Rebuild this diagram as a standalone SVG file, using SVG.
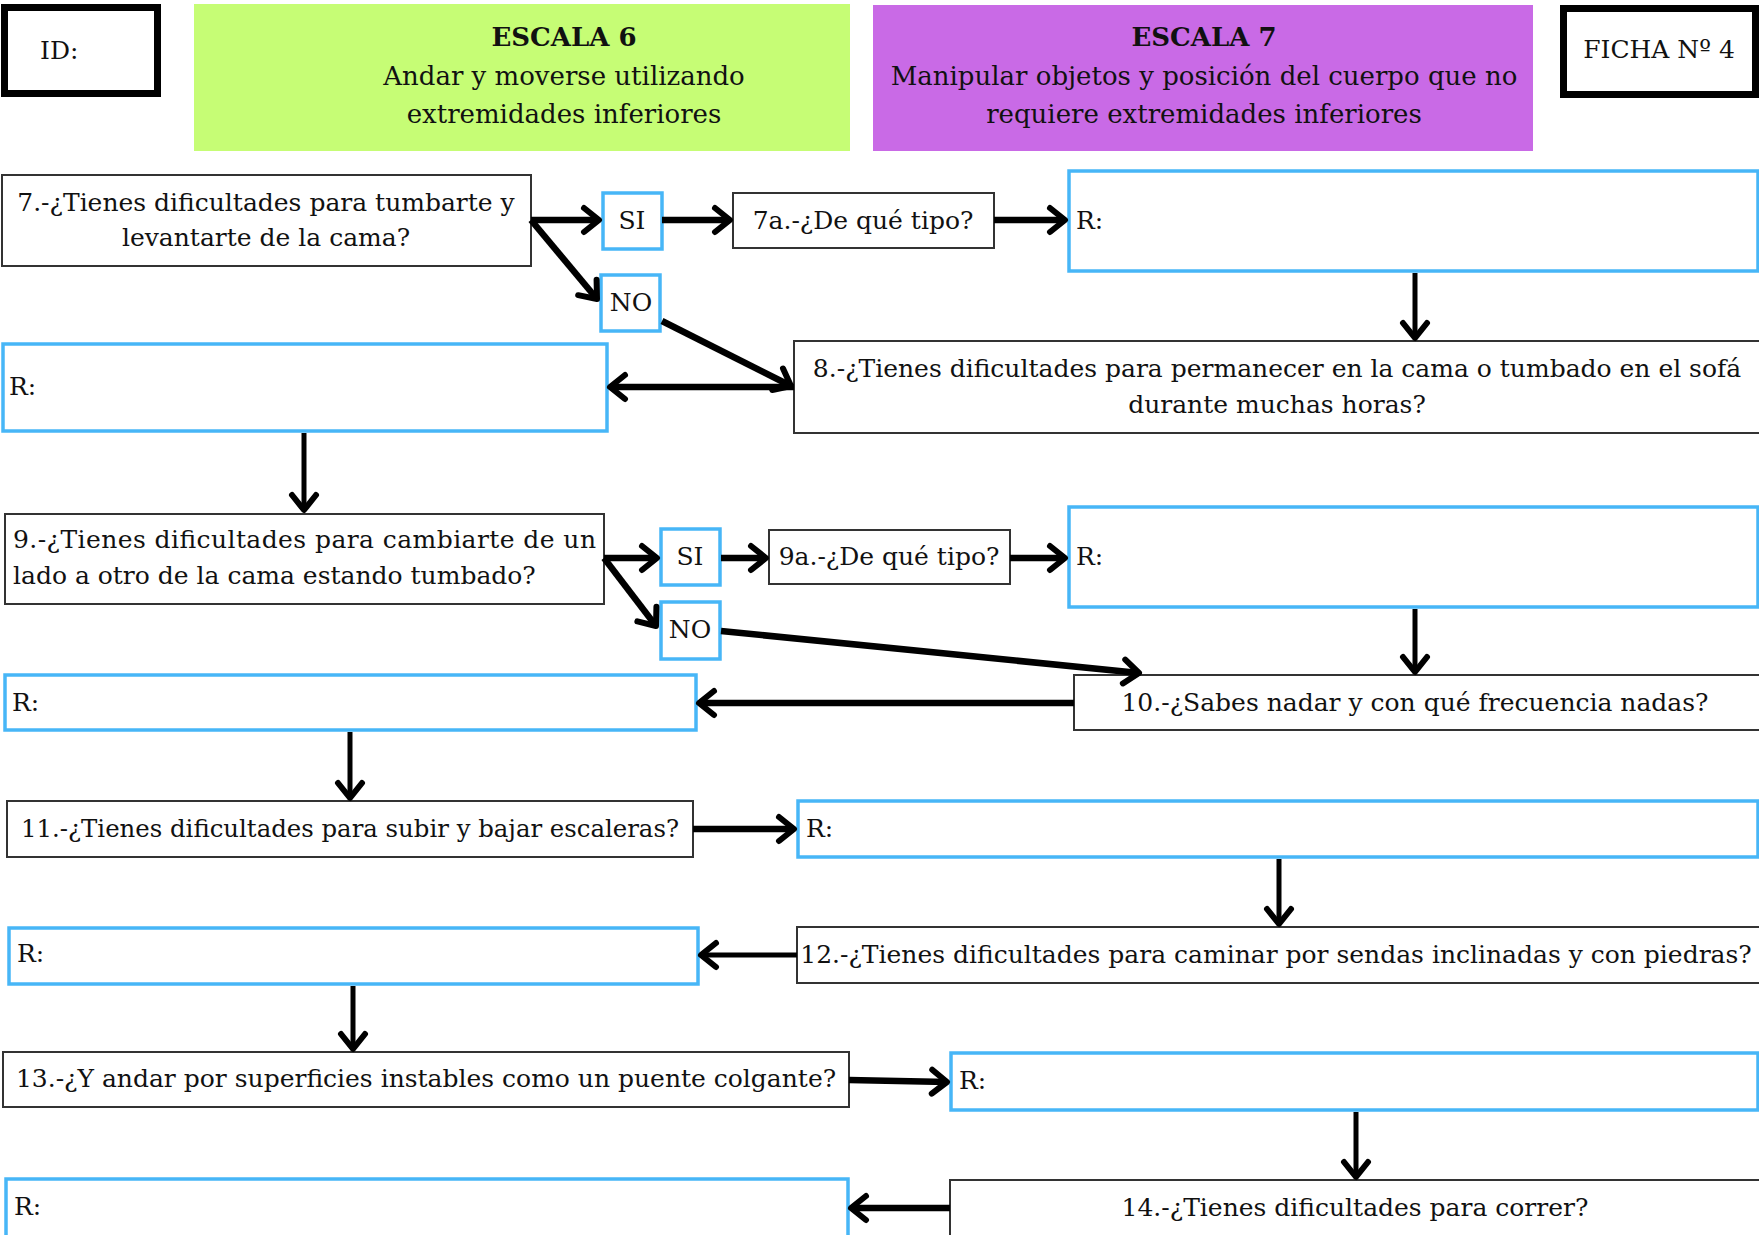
<svg xmlns="http://www.w3.org/2000/svg" width="1759" height="1235" viewBox="0 0 1759 1235">
  <defs>
    <style>
      text { font-family: "DejaVu Serif", "Liberation Serif", serif; font-size: 25px; fill: #111; }
      .h { font-size: 26px; }
      .c { text-anchor: middle; }
      .b { font-weight: bold; }
      .q { fill: #fff; stroke: #333; stroke-width: 2; }
      .r { fill: #fff; stroke: #47b6f7; stroke-width: 3.5; }
      .frame { fill: #fff; stroke: #000; stroke-width: 7; }
      .w { fill: none; stroke: #000; stroke-width: 6.5; marker-end: url(#ah); }
      .n { fill: none; stroke: #000; stroke-width: 5; marker-end: url(#ah); }
    </style>
    <!-- open chevron arrowhead -->
    <marker id="ah" markerUnits="userSpaceOnUse" viewBox="-22 -16 26 32" refX="0" refY="0" markerWidth="26" markerHeight="32" orient="auto" overflow="visible">
      <path d="M-15,-12 L0,0 L-15,12" fill="none" stroke="#000" stroke-width="6" stroke-linecap="round" stroke-linejoin="round"/>
    </marker>
  </defs>

  <rect width="1759" height="1235" fill="#fff"/>

  <!-- header -->
  <g id="hdr-id">
    <rect class="frame" x="4.5" y="7.5" width="153" height="86"/>
    <text x="40" y="59">ID:</text>
  </g>
  <g id="hdr-escala6">
    <rect x="194" y="4" width="656" height="147" fill="#c6fd75"/>
    <text class="c b h" x="564" y="46">ESCALA 6</text>
    <text class="c h" x="564" y="85">Andar y moverse utilizando</text>
    <text class="c h" x="564" y="123">extremidades inferiores</text>
  </g>
  <g id="hdr-escala7">
    <rect x="873" y="5" width="660" height="146" fill="#c96ae6"/>
    <text class="c b h" x="1204" y="46">ESCALA 7</text>
    <text class="c h" x="1204" y="85">Manipular objetos y posición del cuerpo que no</text>
    <text class="c h" x="1204" y="123">requiere extremidades inferiores</text>
  </g>
  <g id="hdr-ficha">
    <rect class="frame" x="1563.5" y="8.5" width="192" height="86"/>
    <text class="c" x="1659" y="58">FICHA Nº 4</text>
  </g>

  <!-- question 7 -->
  <g id="q7">
    <rect class="q" x="2" y="175" width="529" height="91"/>
    <text class="c" x="266" y="211">7.-¿Tienes dificultades para tumbarte y</text>
    <text class="c" x="266" y="246">levantarte de la cama?</text>
  </g>
  <g id="q7-si">
    <rect class="r" x="603" y="193" width="59" height="56"/>
    <text class="c" x="632" y="229">SI</text>
  </g>
  <g id="q7-no">
    <rect class="r" x="601" y="275" width="59" height="56"/>
    <text class="c" x="631" y="311">NO</text>
  </g>
  <g id="q7a">
    <rect class="q" x="733" y="193" width="261" height="55"/>
    <text class="c" x="863" y="229">7a.-¿De qué tipo?</text>
  </g>
  <g id="r7a">
    <rect class="r" x="1069" y="171" width="689" height="100"/>
    <text x="1076" y="229">R:</text>
  </g>
  <g id="q8">
    <rect class="q" x="794" y="341" width="970" height="92"/>
    <text class="c" x="1277" y="377">8.-¿Tienes dificultades para permanecer en la cama o tumbado en el sofá</text>
    <text class="c" x="1277" y="413">durante muchas horas?</text>
  </g>
  <g id="r8">
    <rect class="r" x="3" y="344" width="604" height="87"/>
    <text x="9" y="395">R:</text>
  </g>

  <!-- question 9 -->
  <g id="q9">
    <rect class="q" x="5" y="514" width="599" height="90"/>
    <text x="13" y="548" textLength="583" lengthAdjust="spacing">9.-¿Tienes dificultades para cambiarte de un</text>
    <text x="13" y="584">lado a otro de la cama estando tumbado?</text>
  </g>
  <g id="q9-si">
    <rect class="r" x="661" y="529" width="59" height="56"/>
    <text class="c" x="690" y="565">SI</text>
  </g>
  <g id="q9-no">
    <rect class="r" x="661" y="602" width="59" height="57"/>
    <text class="c" x="690" y="638">NO</text>
  </g>
  <g id="q9a">
    <rect class="q" x="769" y="530" width="241" height="54"/>
    <text class="c" x="889" y="565">9a.-¿De qué tipo?</text>
  </g>
  <g id="r9a">
    <rect class="r" x="1069" y="507" width="689" height="100"/>
    <text x="1076" y="565">R:</text>
  </g>
  <g id="q10">
    <rect class="q" x="1074" y="675" width="690" height="55"/>
    <text class="c" x="1415" y="711">10.-¿Sabes nadar y con qué frecuencia nadas?</text>
  </g>
  <g id="r10">
    <rect class="r" x="5" y="675" width="691" height="55"/>
    <text x="12" y="711">R:</text>
  </g>

  <!-- questions 11 to 14 -->
  <g id="q11">
    <rect class="q" x="7" y="801" width="686" height="56"/>
    <text class="c" x="350" y="837" textLength="658" lengthAdjust="spacingAndGlyphs">11.-¿Tienes dificultades para subir y bajar escaleras?</text>
  </g>
  <g id="r11">
    <rect class="r" x="798" y="801" width="960" height="56"/>
    <text x="806" y="837">R:</text>
  </g>
  <g id="q12">
    <rect class="q" x="797" y="927" width="967" height="56"/>
    <text class="c" x="1276" y="963">12.-¿Tienes dificultades para caminar por sendas inclinadas y con piedras?</text>
  </g>
  <g id="r12">
    <rect class="r" x="9" y="928" width="689" height="56"/>
    <text x="17" y="962">R:</text>
  </g>
  <g id="q13">
    <rect class="q" x="3" y="1052" width="846" height="55"/>
    <text class="c" x="426" y="1087">13.-¿Y andar por superficies instables como un puente colgante?</text>
  </g>
  <g id="r13">
    <rect class="r" x="951" y="1053" width="807" height="57"/>
    <text x="959" y="1089">R:</text>
  </g>
  <g id="q14">
    <rect class="q" x="950" y="1180" width="815" height="60"/>
    <text class="c" x="1355" y="1216">14.-¿Tienes dificultades para correr?</text>
  </g>
  <g id="r14">
    <rect class="r" x="6" y="1179" width="842" height="60"/>
    <text x="14" y="1215">R:</text>
  </g>

  <!-- connectors -->
  <g id="connectors">
    <path class="w" d="M531,220 L599,220"/>
    <path class="w" d="M531,220 L597,299"/>
    <path class="w" d="M662,220 L730,220"/>
    <path class="w" d="M994,220 L1065,220"/>
    <path class="n" d="M1415,273 L1415,338"/>
    <path class="w" d="M662,321 L791,386"/>
    <path class="w" d="M794,387 L610,387"/>
    <path class="n" d="M304,433 L304,510"/>

    <path class="w" d="M604,558 L657,558"/>
    <path class="w" d="M604,558 L656,626"/>
    <path class="w" d="M721,558 L766,558"/>
    <path class="w" d="M1010,558 L1065,558"/>
    <path class="n" d="M1415,609 L1415,672"/>
    <path class="w" d="M721,631 L1139,673"/>
    <path class="w" d="M1074,703 L699,703"/>
    <path class="n" d="M350,732 L350,798"/>

    <path class="w" d="M693,829 L794,829"/>
    <path class="n" d="M1279,859 L1279,924"/>
    <path class="n" d="M797,955 L701,955"/>
    <path class="n" d="M353,986 L353,1049"/>
    <path class="w" d="M849,1080 L947,1082"/>
    <path class="n" d="M1356,1112 L1356,1177"/>
    <path class="w" d="M950,1208 L851,1208"/>
  </g>
</svg>
